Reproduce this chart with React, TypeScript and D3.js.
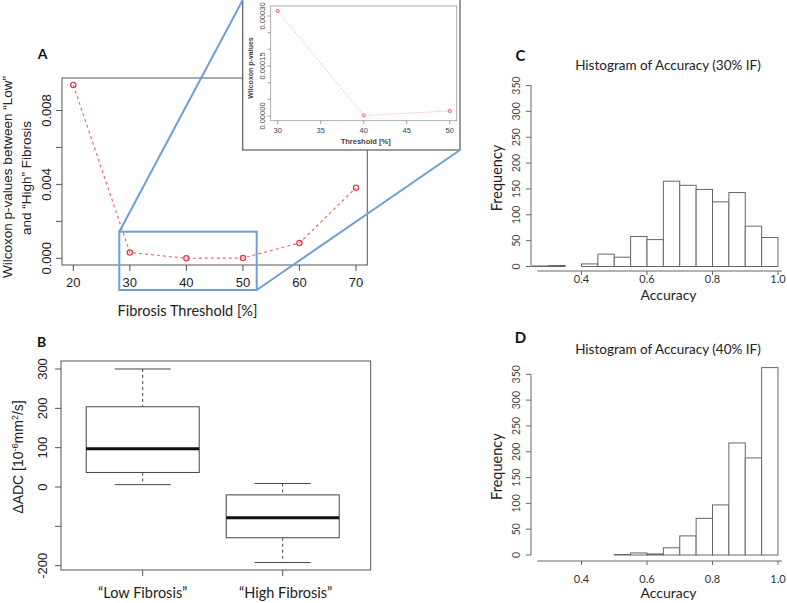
import React from "react";
import * as d3 from "d3";

// ---- data ----
const thresholds = [20, 30, 40, 50, 60, 70];
const pValues = [0.00938, 0.000315, 0.0000015, 0.000015, 0.00083, 0.00382];
const xTicksA = [20, 30, 40, 50, 60, 70];
const yTicksA = [0, 0.002, 0.004, 0.006, 0.008];
const yLabelsA = ["0.000", "", "0.004", "", "0.008"];

const insetThresholds = [30, 40, 50];
const insetPValues = [0.000315, 0.0000015, 0.000015];
const xTicksInset = [30, 35, 40, 45, 50];
const yTicksInset = [0, 0.00005, 0.0001, 0.00015, 0.0002, 0.00025, 0.0003];
const yLabelsInset = ["0.00000", "", "", "0.00015", "", "", "0.00030"];

const boxGroups = ["“Low Fibrosis”", "“High Fibrosis”"];
const whiskerLow = [6, -192];
const q1 = [37, -129];
const medians = [97, -78];
const q3 = [204, -20];
const whiskerHigh = [300, 9];
const yTicksB = [-200, -100, 0, 100, 200, 300];
const yLabelsB = ["-200", "", "0", "100", "200", "300"];

const binStartsC = [0.25, 0.3, 0.35, 0.4, 0.45, 0.5, 0.55, 0.6, 0.65, 0.7, 0.75, 0.8, 0.85, 0.9, 0.95];
const countsC = [1, 2, 0, 5, 24, 18, 58, 52, 165, 157, 149, 125, 143, 78, 56];
const binStartsD = [0.5, 0.55, 0.6, 0.65, 0.7, 0.75, 0.8, 0.85, 0.9, 0.95];
const countsD = [1, 4, 2, 14, 37, 71, 97, 217, 188, 363];
const freqTicks = [0, 50, 100, 150, 200, 250, 300, 350];
const accTicks = [0.4, 0.6, 0.8, 1.0];
const accLabels = ["0.4", "0.6", "0.8", "1.0"];

const R_FONT = "'Liberation Sans', Arial, sans-serif";
const C_FONT = "Lato, 'Open Sans', sans-serif";
const BLUE = "#6d9ed6";

function PanelA() {
  const x = d3.scaleLinear().domain([20, 70]).range([73.3, 356]);
  const y = d3.scaleLinear().domain([0, 0.008]).range([258.3, 110.5]);
  const line = d3.line<number>().x((_, i) => x(thresholds[i])).y((d) => y(d));
  return (
    <g>
      <rect x={62} y={78} width={305.3} height={187} fill="none" stroke="#555" strokeWidth={1} />
      {xTicksA.map((t) => (
        <g key={t}>
          <line x1={x(t)} x2={x(t)} y1={265} y2={271} stroke="#555" />
          <text x={x(t)} y={286.5} textAnchor="middle" fontSize={13} fontFamily={R_FONT} fill="#222">{t}</text>
        </g>
      ))}
      {yTicksA.map((t, i) => (
        <g key={t}>
          <line x1={56} x2={62} y1={y(t)} y2={y(t)} stroke="#555" />
          {yLabelsA[i] && (
            <text transform={`translate(51,${y(t)}) rotate(-90)`} textAnchor="middle" fontSize={13} fontFamily={R_FONT} fill="#222">{yLabelsA[i]}</text>
          )}
        </g>
      ))}
      <path d={line(pValues) || ""} fill="none" stroke="#f06a6a" strokeWidth={1.2} strokeDasharray="3,3" />
      {pValues.map((v, i) => (
        <circle key={i} cx={x(thresholds[i])} cy={y(v)} r={2.6} fill="none" stroke="#e03c46" strokeWidth={1.3} />
      ))}
      <text transform="translate(12,177) rotate(-90)" textAnchor="middle" fontSize={13.5} fontFamily={R_FONT} fill="#222">Wilcoxon p-values between “Low”</text>
      <text transform="translate(30.5,178) rotate(-90)" textAnchor="middle" fontSize={13.5} fontFamily={R_FONT} fill="#222">and “High” Fibrosis</text>
      <text x={187.5} y={316} textAnchor="middle" fontSize={14.5} fontFamily={C_FONT} fill="#222">Fibrosis Threshold [%]</text>
      <text x={42.5} y={58.5} textAnchor="middle" fontSize={14} fontWeight="bold" fontFamily={C_FONT} fill="#111">A</text>
    </g>
  );
}

function Inset() {
  const x = d3.scaleLinear().domain([30, 50]).range([277.7, 449.7]);
  const y = d3.scaleLinear().domain([0, 0.0003]).range([116, 16]);
  const line = d3.line<number>().x((_, i) => x(insetThresholds[i])).y((d) => y(d));
  return (
    <g>
      <rect x={242.7} y={-1} width={217.3} height={151} fill="#fff" stroke="#666" strokeWidth={1.3} />
      <rect x={270.7} y={6} width={186} height={114.7} fill="none" stroke="#999" strokeWidth={0.8} />
      {xTicksInset.map((t) => (
        <g key={t}>
          <line x1={x(t)} x2={x(t)} y1={120.7} y2={124} stroke="#888" strokeWidth={0.8} />
          <text x={x(t)} y={132.7} textAnchor="middle" fontSize={7.5} fontFamily={R_FONT} fill="#444">{t}</text>
        </g>
      ))}
      {yTicksInset.map((t, i) => (
        <g key={t}>
          <line x1={267.5} x2={270.7} y1={y(t)} y2={y(t)} stroke="#888" strokeWidth={0.8} />
          {yLabelsInset[i] && (
            <text transform={`translate(265,${y(t)}) rotate(-90)`} textAnchor="middle" fontSize={7.5} fontFamily={R_FONT} fill="#444">{yLabelsInset[i]}</text>
          )}
        </g>
      ))}
      <path d={line(insetPValues) || ""} fill="none" stroke="#ff9a9a" strokeWidth={0.9} strokeDasharray="1,1.5" />
      {insetPValues.map((v, i) => (
        <circle key={i} cx={x(insetThresholds[i])} cy={y(v)} r={1.6} fill="none" stroke="#e05a5a" strokeWidth={0.9} />
      ))}
      <text transform="translate(252.5,68) rotate(-90)" textAnchor="middle" fontSize={7} fontWeight="bold" fontFamily={R_FONT} fill="#444">Wilcoxon p-values</text>
      <text x={365.7} y={144} textAnchor="middle" fontSize={7.5} fontWeight="bold" fontFamily={R_FONT} fill="#444">Threshold [%]</text>
    </g>
  );
}

function Zoom() {
  return (
    <g stroke={BLUE} strokeWidth={2} fill="none">
      <rect x={119.3} y={231.7} width={137.4} height={58.3} />
      <line x1={119.3} y1={231.7} x2={242.7} y2={0} />
      <line x1={256.7} y1={290} x2={460} y2={150} />
    </g>
  );
}

function PanelB() {
  const y = d3.scaleLinear().domain([-200, 300]).range([565.7, 369]);
  const x = d3.scalePoint<string>().domain(boxGroups).range([142.7, 282.7]);
  const half = 56.5;
  const cap = 28;
  return (
    <g>
      <rect x={61} y={361} width={309.7} height={209} fill="none" stroke="#555" />
      {yTicksB.map((t, i) => (
        <g key={t}>
          <line x1={55} x2={61} y1={y(t)} y2={y(t)} stroke="#555" />
          {yLabelsB[i] && (
            <text transform={`translate(47,${y(t)}) rotate(-90)`} textAnchor="middle" fontSize={13} fontFamily={R_FONT} fill="#222">{yLabelsB[i]}</text>
          )}
        </g>
      ))}
      {boxGroups.map((g, i) => {
        const cx = x(g) as number;
        return (
          <g key={g}>
            <line x1={cx} x2={cx} y1={570} y2={576} stroke="#555" />
            <line x1={cx} x2={cx} y1={y(whiskerHigh[i])} y2={y(q3[i])} stroke="#444" strokeDasharray="3,3" />
            <line x1={cx} x2={cx} y1={y(q1[i])} y2={y(whiskerLow[i])} stroke="#444" strokeDasharray="3,3" />
            <line x1={cx - cap} x2={cx + cap} y1={y(whiskerHigh[i])} y2={y(whiskerHigh[i])} stroke="#444" />
            <line x1={cx - cap} x2={cx + cap} y1={y(whiskerLow[i])} y2={y(whiskerLow[i])} stroke="#444" />
            <rect x={cx - half} y={y(q3[i])} width={half * 2} height={y(q1[i]) - y(q3[i])} fill="none" stroke="#444" />
            <line x1={cx - half} x2={cx + half} y1={y(medians[i])} y2={y(medians[i])} stroke="#111" strokeWidth={3} />
            <text x={cx + (i === 0 ? 0 : 3)} y={597.5} textAnchor="middle" fontSize={14.5} fontFamily={C_FONT} fill="#222">{g}</text>
          </g>
        );
      })}
      <text transform="translate(23,457) rotate(-90)" textAnchor="middle" fontSize={14} fontFamily={R_FONT} fill="#222">
        ΔADC [10<tspan dy={-5} fontSize={9}>-6</tspan><tspan dy={5}>mm</tspan><tspan dy={-5} fontSize={9}>2</tspan><tspan dy={5}>/s]</tspan>
      </text>
      <text x={41.7} y={346.5} textAnchor="middle" fontSize={14} fontWeight="bold" fontFamily={C_FONT} fill="#111">B</text>
    </g>
  );
}

function Histogram({ top, titleY, starts, counts, title, letter, axisY, y0, y350, tickLabelY, axisTitleY }: any) {
  const x = d3.scaleLinear().domain([0.4, 1.0]).range([581.5, 778]);
  const y = d3.scaleLinear().domain([0, 350]).range([y0, y350]);
  return (
    <g>
      <text x={520.5} y={top} textAnchor="middle" fontSize={15} fontWeight="bold" fontFamily={C_FONT} fill="#111">{letter}</text>
      <text x={668} y={titleY} textAnchor="middle" fontSize={13.5} fontFamily={C_FONT} fill="#222">{title}</text>
      <line x1={531} x2={531} y1={y(0)} y2={y(350)} stroke="#666" />
      {freqTicks.map((t) => (
        <g key={t}>
          <line x1={526} x2={531} y1={y(t)} y2={y(t)} stroke="#666" />
          <text transform={`translate(520,${y(t)}) rotate(-90)`} textAnchor="middle" fontSize={10.5} fontFamily={C_FONT} fill="#444">{t}</text>
        </g>
      ))}
      <line x1={x(0.265)} x2={x(1.012)} y1={axisY} y2={axisY} stroke="#666" />
      {counts.map((c: number, i: number) => (
        <rect key={i} x={x(starts[i])} y={y(c)} width={x(starts[i] + 0.05) - x(starts[i])} height={y(0) - y(c)} fill="#fff" stroke="#666" strokeWidth={1} />
      ))}
      <text transform={`translate(502,${(y0 + y350) / 2 + 2}) rotate(-90)`} textAnchor="middle" fontSize={14.5} fontFamily={C_FONT} fill="#222">Frequency</text>
      <text x={668.5} y={axisTitleY} textAnchor="middle" fontSize={14} fontFamily={C_FONT} fill="#222">Accuracy</text>
      {accTicks.map((t, i) => (
        <g key={accLabels[i]}>
          <line x1={x(t)} x2={x(t)} y1={axisY} y2={axisY + 4} stroke="#666" />
          <text x={x(t)} y={tickLabelY} textAnchor="middle" fontSize={11} fontFamily={C_FONT} fill="#333">{accLabels[i]}</text>
        </g>
      ))}
    </g>
  );
}

export default function App() {
  return (
    <svg width={787} height={603} style={{ position: "absolute", left: 0, top: 0, background: "#fff" }}>
      <rect width={787} height={603} fill="#fff" />
      <PanelA />
      <Inset />
      <Zoom />
      <PanelB />
      <Histogram top={61} titleY={70} starts={binStartsC} counts={countsC} title="Histogram of Accuracy (30% IF)" letter="C" axisY={271} y0={266.5} y350={85.5} tickLabelY={283} axisTitleY={299.5} />
      <Histogram top={343} titleY={354} starts={binStartsD} counts={countsD} title="Histogram of Accuracy (40% IF)" letter="D" axisY={561} y0={555} y350={374.3} tickLabelY={582.5} axisTitleY={598} />
    </svg>
  );
}
